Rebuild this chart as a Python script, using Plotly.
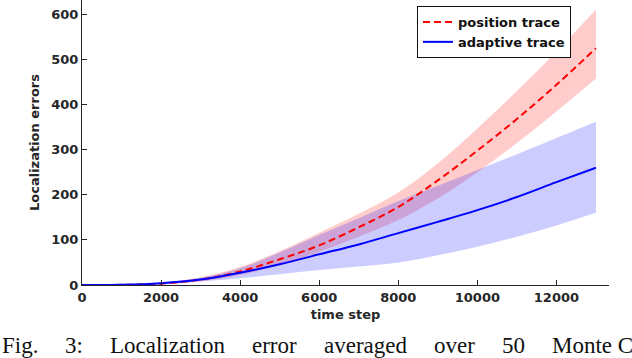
import plotly.graph_objects as go

# time steps sampled along the curves
steps = [0, 1000, 2000, 3000, 4000, 5000, 6000, 7000, 8000, 9000, 10000, 11000, 12000, 13000]

# position trace: mean and band
pos_mean = [0, 0.3, 3, 12, 30, 57, 88, 128, 173, 232, 298, 368, 444, 525]
pos_upper = [0, 0.5, 5, 17, 40, 75, 116, 158, 205, 270, 347, 430, 518, 611]
pos_lower = [0, 0.1, 1.5, 8, 22, 45, 74, 107, 144, 192, 250, 315, 385, 458]

# adaptive trace: mean and band
ada_mean = [0, 0.5, 4, 12, 27, 46, 68, 90, 115, 140, 166, 195, 228, 260]
ada_upper = [0, 0.8, 6, 16, 37, 72, 111, 148, 186, 220, 255, 290, 326, 362]
ada_lower = [0, 0.2, 2, 8, 15, 24, 33, 41, 50, 66, 85, 107, 132, 160]

y_ticks = [0, 100, 200, 300, 400, 500, 600]
x_ticks = [0, 2000, 4000, 6000, 8000, 10000, 12000]

caption_words = ["Fig.", "3:", "Localization", "error", "averaged", "over", "50", "Monte C"]

RED = "#ff0000"
BLUE = "#0000ff"
INK = "#262626"

fig = go.Figure()

# bands
fig.add_trace(go.Scatter(x=steps, y=pos_lower, mode="lines", line=dict(width=0, shape="spline"),
                         showlegend=False, hoverinfo="skip"))
fig.add_trace(go.Scatter(x=steps, y=pos_upper, mode="lines", line=dict(width=0, shape="spline"),
                         fill="tonexty", fillcolor="rgba(255,0,0,0.2)", showlegend=False, hoverinfo="skip"))
fig.add_trace(go.Scatter(x=steps, y=ada_lower, mode="lines", line=dict(width=0, shape="spline"),
                         showlegend=False, hoverinfo="skip"))
fig.add_trace(go.Scatter(x=steps, y=ada_upper, mode="lines", line=dict(width=0, shape="spline"),
                         fill="tonexty", fillcolor="rgba(0,0,255,0.2)", showlegend=False, hoverinfo="skip"))

# mean lines
fig.add_trace(go.Scatter(x=steps, y=pos_mean, mode="lines", name="position trace",
                         line=dict(color=RED, width=2, dash="7px,4px", shape="spline")))
fig.add_trace(go.Scatter(x=steps, y=ada_mean, mode="lines", name="adaptive trace",
                         line=dict(color=BLUE, width=2, shape="spline")))

# caption below the chart, spread across the width like justified text
caption_x = [0, 63, 108, 250, 322, 432, 500, 550]
for word, px in zip(caption_words, caption_x):
    fig.add_annotation(text=word, xref="paper", yref="paper",
                       x=(px - 82) / 527, y=(285 - 331) / 285,
                       xanchor="left", yanchor="top", showarrow=False,
                       font=dict(family="Liberation Serif", size=23, color="#111111"))

axis_font = dict(family="DejaVu Sans", size=13, color=INK, weight="bold")

fig.update_layout(
    width=632, height=358,
    margin=dict(l=82, r=23, t=0, b=73),
    paper_bgcolor="white", plot_bgcolor="white",
    font=dict(family="DejaVu Sans", color=INK),
    showlegend=True,
    legend=dict(x=(571 - 82) / 527, y=(285 - 6) / 285, xanchor="right", yanchor="top",
                bgcolor="white", bordercolor="#111111", borderwidth=1,
                font=dict(family="DejaVu Sans", size=13, color="#111111", weight="bold"),
                itemwidth=30, tracegroupgap=0, traceorder="normal"),
    xaxis=dict(range=[0, 13330], tickvals=x_ticks, tickformat="d", ticks="inside", ticklen=5,
               tickcolor=INK, showline=True, linecolor=INK, linewidth=1, showgrid=False,
               zeroline=False, tickfont=axis_font, automargin=False,
               title=dict(text="time step", font=axis_font, standoff=6)),
    yaxis=dict(range=[0, 632], tickvals=y_ticks, ticks="inside", ticklen=5, tickcolor=INK,
               showline=True, linecolor=INK, linewidth=1, showgrid=False, zeroline=False,
               tickfont=axis_font, automargin=False,
               title=dict(text="Localization errors", font=axis_font, standoff=8)),
)

# page body has a default 8px margin; drop it so the figure fills the window
fig.write_html("out.html", config={"displayModeBar": False},
               post_script="document.body.style.margin='0';")
